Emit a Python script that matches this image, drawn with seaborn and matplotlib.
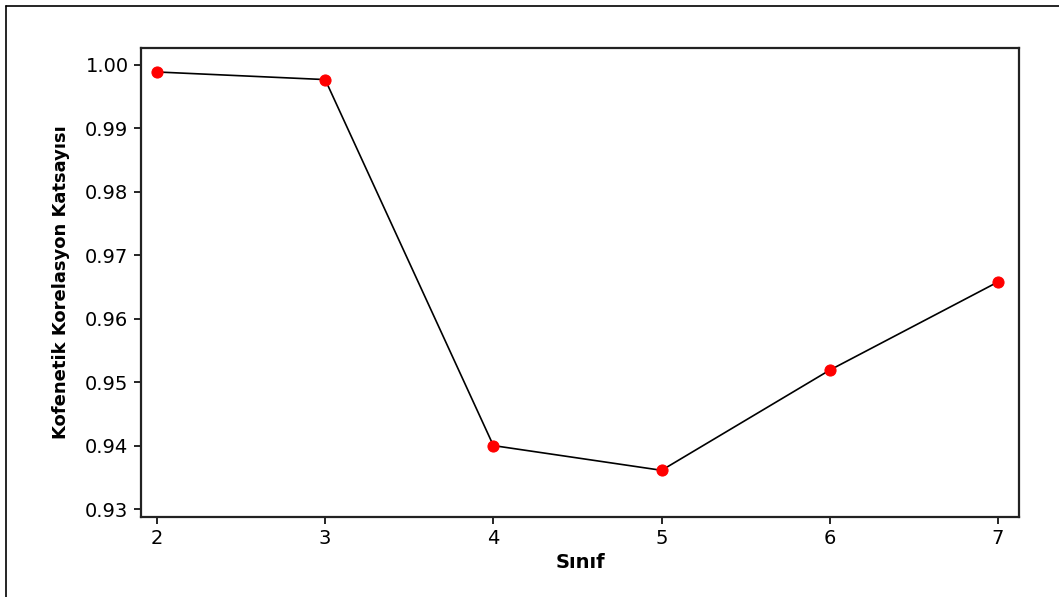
import seaborn as sns
import matplotlib.pyplot as plt
from matplotlib.lines import Line2D
import pandas as pd

# values
sinif = [2, 3, 4, 5, 6, 7]
kofenetik = [0.9989, 0.9977, 0.9400, 0.9361, 0.9519, 0.9658]
y_ticks = [0.93, 0.94, 0.95, 0.96, 0.97, 0.98, 0.99, 1.00]

df = pd.DataFrame({"Sınıf": sinif, "Kofenetik": kofenetik})

sns.set_style("ticks")
plt.rcParams["font.family"] = ["DejaVu Sans"]
plt.rcParams["text.color"] = "black"
plt.rcParams["axes.labelcolor"] = "black"
plt.rcParams["xtick.color"] = "black"
plt.rcParams["ytick.color"] = "black"

fig = plt.figure(figsize=(10.59, 5.97), dpi=100)
ax = fig.add_axes([141 / 1059, 1 - 517 / 597, (1019 - 141) / 1059, (517 - 48) / 597])

sns.lineplot(data=df, x="Sınıf", y="Kofenetik", ax=ax, color="black", linewidth=1.2,
             marker="o", markersize=8, markerfacecolor="red", markeredgecolor="red")

ax.set_xlim(1.905, 7.125)
ax.set_ylim(0.92874, 1.00268)
ax.set_xticks(sinif)
ax.set_yticks(y_ticks)
ax.set_yticklabels([f"{v:.2f}" for v in y_ticks])
ax.tick_params(axis="both", labelsize=14, length=5, width=1.2, direction="out", pad=4)

for s in ax.spines.values():
    s.set_visible(True)
    s.set_linewidth(1.6)
    s.set_color("#222222")

ax.set_xlabel("Sınıf", fontsize=14, fontweight="bold", labelpad=3)
ax.set_ylabel("Kofenetik Korelasyon Katsayısı", fontsize=13, fontweight="bold", labelpad=11)

# outer frame (top and left edges visible)
fig.add_artist(Line2D([6 / 1059, 6 / 1059], [0, 1 - 6 / 597], color="black", lw=1.2))
fig.add_artist(Line2D([6 / 1059, 1], [1 - 6 / 597, 1 - 6 / 597], color="black", lw=1.2))

fig.savefig("out.png", dpi=100)
